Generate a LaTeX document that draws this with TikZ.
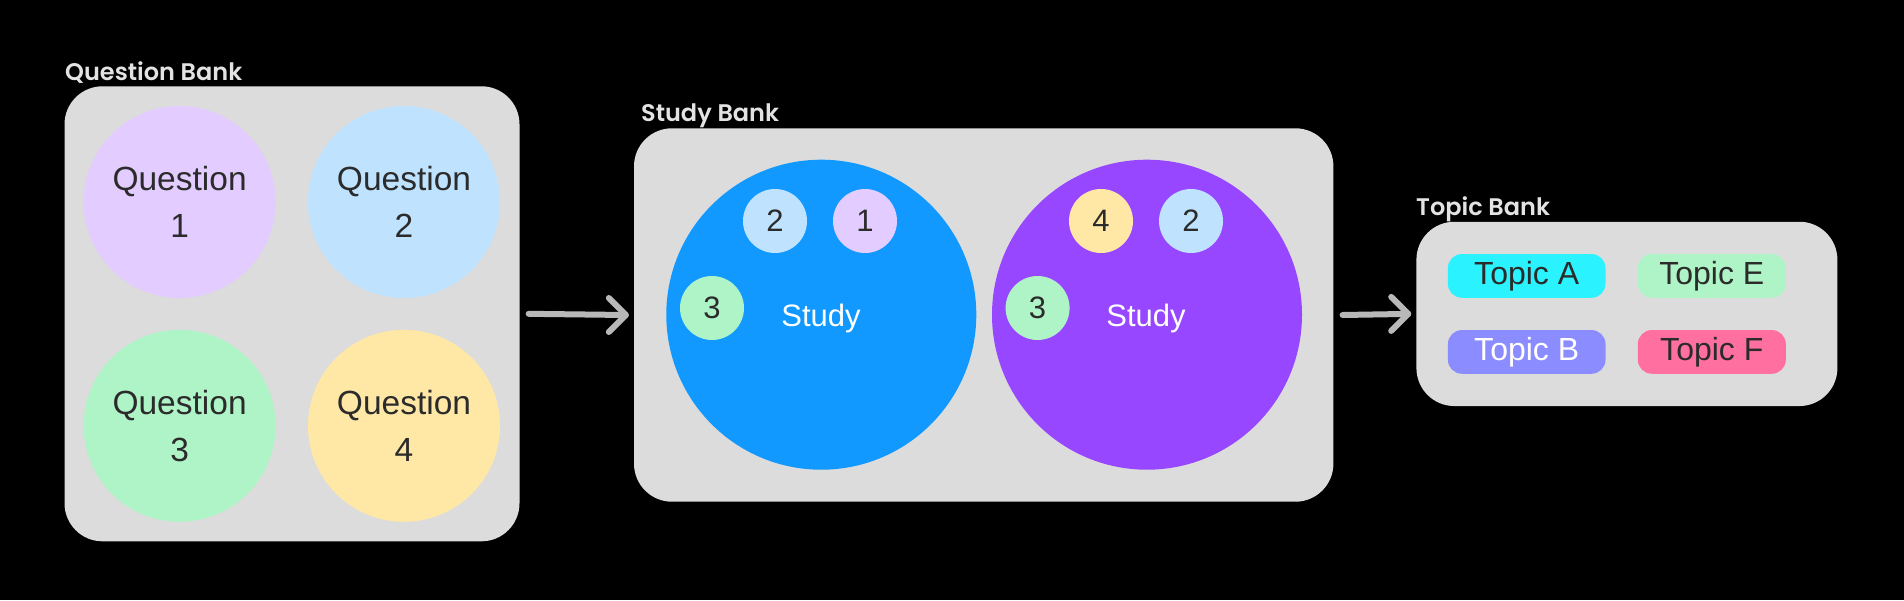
\documentclass[tikz,border=0pt]{standalone}
\usepackage{fontspec}
\setmainfont{Liberation Sans}
\newfontfamily\titlefont{Poppins SemiBold}
\definecolor{boxgray}{HTML}{DCDCDC}
\definecolor{darktext}{HTML}{2B2B2B}
\definecolor{titletext}{HTML}{E3E3E3}
\definecolor{arrowgray}{HTML}{B8B8B8}
\definecolor{qlav}{HTML}{E3CCFF}
\definecolor{qblue}{HTML}{BFE3FF}
\definecolor{qgreen}{HTML}{AFF4C6}
\definecolor{qyellow}{HTML}{FFE8A6}
\definecolor{studyblue}{HTML}{1199FF}
\definecolor{studypurple}{HTML}{9747FF}
\definecolor{topiccyan}{HTML}{2AF3FF}
\definecolor{topicgreen}{HTML}{AFF4C6}
\definecolor{topicviolet}{HTML}{8B8CFF}
\definecolor{topicpink}{HTML}{FF6FA0}
\begin{document}
\begin{tikzpicture}[x=1pt,y=-1pt,
  bank/.style={fill=boxgray, rounded corners=38pt, inner sep=0pt},
  banktitle/.style={anchor=base west, inner sep=0pt, text=titletext, font=\titlefont\fontsize{24}{28}\selectfont},
  qcirc/.style={circle, minimum size=192pt, inner sep=0pt, align=center, text=darktext, font=\fontsize{33.5}{47}\selectfont},
  studycirc/.style={circle, minimum size=310pt, inner sep=0pt},
  bubble/.style={circle, minimum size=64pt, inner sep=0pt, text=darktext, font=\fontsize{31}{36}\selectfont},
  studylabel/.style={anchor=base, inner sep=0pt, text=white, font=\fontsize{31}{36}\selectfont},
  pill/.style={rounded corners=14pt, minimum height=43.7pt, inner sep=0pt, text=darktext, font=\fontsize{32}{36}\selectfont},
  flow/.style={draw=arrowgray, line width=6pt, line cap=round, line join=round}
]
\fill[black] (0,0) rectangle (1904,600);
\useasboundingbox (0,0) rectangle (1904,600);

% Question bank
\node[bank, minimum width=455pt, minimum height=455pt] (qbank) at (292,313.8) {};
\node[banktitle] (qtitle) at (65,80.7) {Question Bank};
\node[qcirc, fill=qlav] (q1) at (179.6,202) {Question\\1};
\node[qcirc, fill=qblue] (q2) at (404,202) {Question\\2};
\node[qcirc, fill=qgreen] (q3) at (179.6,425.8) {Question\\3};
\node[qcirc, fill=qyellow] (q4) at (404,425.8) {Question\\4};

% Study bank
\node[bank, minimum width=699.4pt, minimum height=373.4pt] (sbank) at (983.7,315) {};
\node[banktitle] (stitle) at (641,121.7) {Study Bank};
\node[studycirc, fill=studyblue] (s1) at (821.3,314.7) {};
\node[studycirc, fill=studypurple] (s2) at (1147,314.7) {};
\node[bubble, fill=qblue] (s1b2) at (775,221) {2};
\node[bubble, fill=qlav] (s1b1) at (865,221) {1};
\node[bubble, fill=qgreen] (s1b3) at (712,308) {3};
\node[studylabel] (s1lab) at (821,326.7) {Study};
\node[bubble, fill=qyellow] (s2b4) at (1101,221) {4};
\node[bubble, fill=qblue] (s2b2) at (1191,221) {2};
\node[bubble, fill=qgreen] (s2b3) at (1037.6,308) {3};
\node[studylabel] (s2lab) at (1146,326.7) {Study};

% Topic bank
\node[bank, minimum width=421pt, minimum height=184.3pt] (tbank) at (1626.9,313.9) {};
\node[banktitle] (ttitle) at (1416,215.7) {Topic Bank};
\node[pill, fill=topiccyan, minimum width=157.6pt] (ta) at (1526.7,275.9) {Topic A};
\node[pill, fill=topicgreen, minimum width=148pt] (te) at (1711.8,275.9) {Topic E};
\node[pill, fill=topicviolet, minimum width=157.6pt, text=white] (tb) at (1526.7,351.9) {Topic B};
\node[pill, fill=topicpink, minimum width=148pt] (tf) at (1711.8,351.9) {Topic F};

% Arrows
\coordinate (a1start) at ([xshift=9pt]qbank.east);
\coordinate (a1tip) at ([xshift=-8pt]sbank.west);
\coordinate (a2start) at ([xshift=9pt]sbank.east);
\coordinate (a2tip) at ([xshift=-8pt]tbank.west);
\draw[flow] (a1start) -- (a1tip);
\draw[flow] ([shift={(-17,-17)}]a1tip) -- (a1tip) -- ([shift={(-17,17)}]a1tip);
\draw[flow] (a2start) -- (a2tip);
\draw[flow] ([shift={(-17,-17)}]a2tip) -- (a2tip) -- ([shift={(-17,17)}]a2tip);
\end{tikzpicture}
\end{document}
